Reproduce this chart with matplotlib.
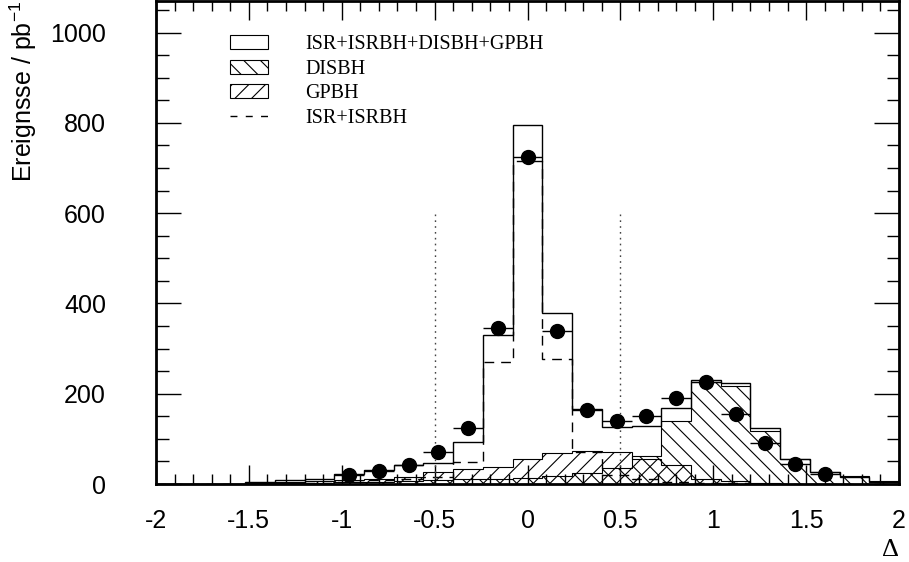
import numpy as np
import matplotlib
matplotlib.use("Agg")
import matplotlib.pyplot as plt
from matplotlib.patches import Patch
from matplotlib.lines import Line2D
from matplotlib.ticker import MultipleLocator

# --- data ---------------------------------------------------------------
bin_edges = np.linspace(-2.0, 2.0, 26)   # 25 bins of width 0.16

total_mc = [0, 0, 1, 4, 9, 10, 22, 31, 41, 47, 93, 330, 796, 379, 166,
            126, 129, 168, 231, 224, 124, 55, 27, 15, 4]
isr_isrbh = [0, 0, 0, 1, 2, 3, 5, 8, 12, 16, 49, 270, 716, 277, 70,
             20, 12, 4, 3, 2, 1, 0, 0, 0, 0]
disbh = [0, 0, 0, 1, 2, 3, 4, 5, 6, 8, 10, 12, 14, 18, 25,
         35, 62, 139, 225, 217, 117, 55, 27, 17, 6]
gpbh = [0, 0, 1, 2, 4, 6, 8, 12, 16, 26, 33, 38, 55, 68, 72,
        70, 55, 42, 12, 6, 3, 1, 0, 0, 0]

data_x = [-0.96, -0.80, -0.64, -0.48, -0.32, -0.16, 0.00, 0.16, 0.32,
          0.48, 0.64, 0.80, 0.96, 1.12, 1.28, 1.44, 1.60]
data_y = [20, 29, 42, 71, 124, 346, 725, 339, 164,
          140, 151, 191, 226, 155, 91, 44, 22]

cut_lines = [-0.5, 0.5]
cut_height = 600

legend_labels = ["ISR+ISRBH+DISBH+GPBH", "DISBH", "GPBH", "ISR+ISRBH"]

# --- figure -------------------------------------------------------------
plt.rcParams['hatch.linewidth'] = 0.8
fig = plt.figure(figsize=(9.09, 5.62), dpi=100)
ax = fig.add_axes([156/909, 78/562, 743/909, 483/562])

half_w = (bin_edges[1] - bin_edges[0]) / 2

ax.stairs(disbh, bin_edges, fill=True, facecolor='none', edgecolor='black',
          hatch='\\\\', linewidth=0.8)
ax.stairs(gpbh, bin_edges, fill=True, facecolor='none', edgecolor='black',
          hatch='//', linewidth=0.8)
ax.stairs(isr_isrbh, bin_edges, color='black', linestyle=(0, (7, 5)), linewidth=1.0)
ax.stairs(total_mc, bin_edges, color='black', linewidth=1.0)

ax.vlines(cut_lines, 0, cut_height, colors='#444444', linestyles=(0, (1.2, 3)),
          linewidth=1.0)

ax.errorbar(data_x, data_y, xerr=half_w, fmt='o', color='black',
            markersize=10, elinewidth=1.0, capsize=0, zorder=5)

ax.set_xlim(-2, 2)
ax.set_ylim(0, 1070)
ax.xaxis.set_major_locator(MultipleLocator(0.5))
ax.xaxis.set_minor_locator(MultipleLocator(0.1))
ax.yaxis.set_major_locator(MultipleLocator(200))
ax.yaxis.set_minor_locator(MultipleLocator(50))

ax.set_xticks([-2, -1.5, -1, -0.5, 0, 0.5, 1, 1.5, 2])
ax.set_xticklabels(['-2', '-1.5', '-1', '-0.5', '0', '0.5', '1', '1.5', '2'])

for s in ax.spines.values():
    s.set_linewidth(2.0)
ax.tick_params(which='both', direction='in', top=True, right=True, width=1.0)
ax.tick_params(axis='x', which='major', length=14, pad=18)
ax.tick_params(axis='x', which='minor', length=7)
ax.tick_params(axis='y', which='major', length=18, pad=36)
ax.tick_params(axis='y', which='minor', length=9)
for lab in ax.get_xticklabels() + ax.get_yticklabels():
    lab.set_fontfamily('Liberation Sans')
    lab.set_fontsize(18)

ax.set_ylabel('Ereignsse / pb$^{\\mathregular{-1}}$', fontsize=18,
              fontfamily='Liberation Sans', loc='top')
ax.yaxis.set_label_coords(-0.158, 1.0)
ax.set_xlabel('Δ', fontsize=19, fontfamily='Liberation Serif', loc='right')
ax.xaxis.set_label_coords(1.0, -0.113)

handles = [
    Patch(facecolor='white', edgecolor='black', linewidth=0.8),
    Patch(facecolor='white', edgecolor='black', hatch='\\\\', linewidth=0.8),
    Patch(facecolor='white', edgecolor='black', hatch='//', linewidth=0.8),
    Line2D([], [], color='black', linestyle=(0, (5, 6)), linewidth=1.0),
]
ax.legend(handles, legend_labels, loc='upper left', bbox_to_anchor=(0.0996, 0.93),
          frameon=False, borderpad=0, borderaxespad=0,
          prop={'family': 'Liberation Serif', 'size': 14.5},
          handlelength=1.9, handleheight=0.7, handletextpad=1.85, labelspacing=0.28)

fig.savefig('out.png', dpi=100)
